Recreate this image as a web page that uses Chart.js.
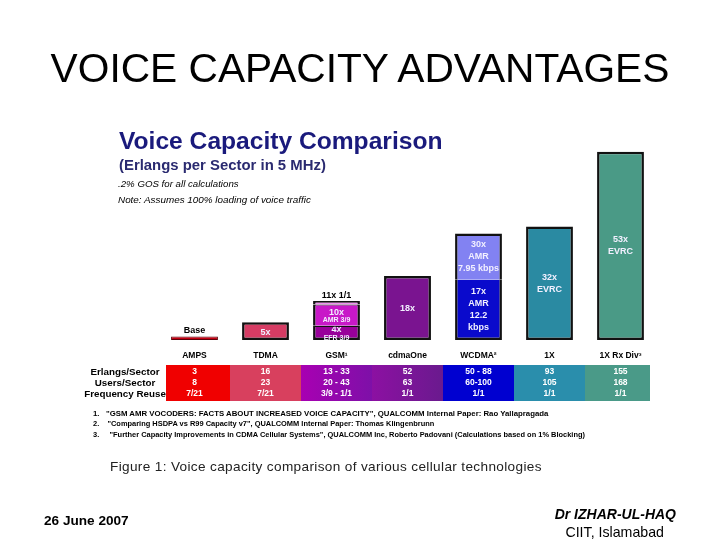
<!DOCTYPE html>
<html><head><meta charset="utf-8">
<script src="https://cdn.jsdelivr.net/npm/chart.js@4/dist/chart.umd.min.js"></script>
<style>
html,body{margin:0;padding:0;background:#fff;width:720px;height:540px;overflow:hidden;font-family:"Liberation Sans",Arial,sans-serif;}
#wrap{position:relative;width:720px;height:540px;}
canvas{position:absolute;left:0;top:0;}
.t{position:absolute;white-space:nowrap;}
</style></head><body>
<div id="wrap">
<canvas id="c" width="720" height="540"></canvas>
<div class="t" style="left:0;width:720px;text-align:center;top:45px;font-size:40.7px;line-height:46px;color:#000;">VOICE CAPACITY ADVANTAGES</div>
<div class="t" style="left:119px;top:127px;font-size:24.6px;line-height:28px;font-weight:bold;color:#1a1a7c;">Voice Capacity Comparison</div>
<div class="t" style="left:119px;top:156px;font-size:14.9px;line-height:18px;font-weight:bold;color:#2a2a70;">(Erlangs per Sector in 5 MHz)</div>
<div class="t" style="left:118px;top:178px;font-size:9.7px;line-height:12px;font-style:italic;color:#000;">.2% GOS for all calculations</div>
<div class="t" style="left:118px;top:194px;font-size:9.9px;line-height:12px;font-style:italic;color:#000;">Note: Assumes 100% loading of voice traffic</div>
<div class="t" style="left:93px;top:409px;font-size:7.8px;line-height:10px;font-weight:bold;color:#000;">1.&nbsp;&nbsp;&nbsp;"GSM AMR VOCODERS: FACTS ABOUT INCREASED VOICE CAPACITY", QUALCOMM Internal Paper: Rao Yallapragada</div>
<div class="t" style="left:93px;top:419px;font-size:7.45px;line-height:10px;font-weight:bold;color:#000;">2.&nbsp;&nbsp;&nbsp;&nbsp;"Comparing HSDPA vs R99 Capacity v7", QUALCOMM Internal Paper: Thomas Klingenbrunn</div>
<div class="t" style="left:93px;top:430px;font-size:7.45px;line-height:10px;font-weight:bold;color:#000;">3.&nbsp;&nbsp;&nbsp;&nbsp;&nbsp;"Further Capacity Improvements in CDMA Cellular Systems", QUALCOMM Inc, Roberto Padovani (Calculations based on 1% Blocking)</div>
<div class="t" style="left:110px;top:458px;font-size:13.6px;line-height:17px;color:#222;letter-spacing:0.35px;">Figure 1: Voice capacity comparison of various cellular technologies</div>
<div class="t" style="left:44px;top:513px;font-size:13.6px;line-height:16px;font-weight:bold;color:#000;">26 June 2007</div>
<div class="t" style="right:44px;top:506px;font-size:14px;line-height:16px;font-weight:bold;font-style:italic;color:#000;">Dr IZHAR-UL-HAQ</div>
<div class="t" style="right:56px;top:524px;font-size:14.2px;line-height:16px;color:#000;">CIIT, Islamabad</div>
</div>
<script>
const categories = ['AMPS', 'TDMA', 'GSM\u00B9', 'cdmaOne', 'WCDMA\u00B2', '1X', '1X Rx Div\u00B3'];
// capacity levels (multiples of AMPS) - lower tier, then upper tiers for stacked codecs
const lowerTier = [1, 5, 4, 18, 17, 32, 53];
const middleTier = [null, null, 10, null, 30, null, null];
const upperTier = [null, null, 11, null, null, null, null];
const lowerLabels = ['', '5x', '4x\nEFR 3/9', '18x', '17x\nAMR\n12.2\nkbps', '32x\nEVRC', '53x\nEVRC'];
const middleLabels = ['', '', '10x\nAMR 3/9', '', '30x\nAMR\n7.95 kbps', '', ''];
const aboveLabels = ['Base', '', '11x 1/1', '', '', '', ''];
const rowLabels = ['Erlangs/Sector', 'Users/Sector', 'Frequency Reuse'];
const erlangsPerSector = ['3', '16', '13 - 33', '52', '50 - 88', '93', '155'];
const usersPerSector = ['8', '23', '20 - 43', '63', '60-100', '105', '168'];
const frequencyReuse = ['7/21', '7/21', '3/9 - 1/1', '1/1', '1/1', '1/1', '1/1'];

// styles
const lowerColors = ['#c40012', '#d63c64', '#98009a', '#7a1490', '#0a0acc', '#2a8aa2', '#4a9a86'];
const middleColors = ['#000', '#000', '#c818c8', '#000', '#8282f2', '#000', '#000'];
const upperColors = ['#000', '#000', '#f090f0', '#000', '#000', '#000', '#000'];
const lowerBorderColors = ['#5a0008', '#111', '#111', '#111', '#111', '#111', '#111'];
const sideBorder = [1, 2.5, 2.5, 2.5, 2.5, 2.5, 2.5];
const lowerTopBorder = [1, 2.5, 1.2, 2.5, 0, 2.5, 2.5];
const middleTopBorder = [0, 0, 1, 0, 2.5, 0, 0];
const tableColors = ['#f00000', '#d8405e', ['#a800b2', '#7e10a8'], ['#8c10a2', '#6a1a8e'], '#0000d0', '#2a8eac', '#4a9a88'];
const FONT = '"Liberation Sans", Arial, sans-serif';

const lowerData = lowerTier.map(v => [0, v]);
const middleData = middleTier.map((v, i) => v == null ? null : [lowerTier[i], v]);
const upperData = upperTier.map((v, i) => v == null ? null : [middleTier[i], v]);

const labelPlugin = {
  id: 'barLabels',
  afterDatasetsDraw(chart) {
    const ctx = chart.ctx;
    const sets = [lowerLabels, middleLabels];
    ctx.save();
    ctx.textAlign = 'center';
    ctx.textBaseline = 'middle';
    sets.forEach((labels, di) => {
      const meta = chart.getDatasetMeta(di);
      meta.data.forEach((bar, i) => {
        const txt = labels[i];
        if (!txt) return;
        const lines = txt.split('\n');
        const top = Math.min(bar.y, bar.base), bot = Math.max(bar.y, bar.base);
        const h = bot - top;
        const small = h < 25;
        const lh = small ? 8 : 12;
        const total = lh * lines.length;
        let cy = (top + bot) / 2 - total / 2 + lh / 2;
        if (small) cy += 1;
        ctx.save();
        ctx.beginPath();
        ctx.rect(bar.x - bar.width / 2, top + 1, bar.width, h - 1);
        ctx.clip();
        ctx.fillStyle = '#f2f0ff';
        lines.forEach((ln, k) => {
          const fs = (small && k > 0) ? 7 : 9;
          ctx.font = 'bold ' + fs + 'px ' + FONT;
          ctx.fillText(ln, bar.x, cy + k * lh);
        });
        ctx.restore();
      });
    });
    ctx.fillStyle = '#000';
    ctx.font = 'bold 9px ' + FONT;
    ctx.textBaseline = 'bottom';
    aboveLabels.forEach((txt, i) => {
      if (!txt) return;
      let topY = Infinity, x = 0;
      [0, 1, 2].forEach(di => {
        if (chart.data.datasets[di].data[i] == null) return;
        const b = chart.getDatasetMeta(di).data[i];
        const t = Math.min(b.y, b.base);
        if (t < topY) { topY = t; x = b.x; }
      });
      ctx.fillText(txt, x, topY - 1);
    });
    ctx.restore();
  },
  afterDraw(chart) {
    const ctx = chart.ctx;
    const xs = chart.scales.x;
    const n = categories.length;
    const centers = categories.map((c, i) => xs.getPixelForValue(i));
    const step = centers[1] - centers[0];
    const top = 365, bottom = 401;
    const rows = [erlangsPerSector, usersPerSector, frequencyReuse];
    const rowY = [372, 383, 394];
    ctx.save();
    for (let i = 0; i < n; i++) {
      const l = i === 0 ? centers[i] - 28 : centers[i] - step / 2;
      const r = i === n - 1 ? centers[i] + 28.5 : centers[i] + step / 2;
      const col = tableColors[i];
      if (Array.isArray(col)) {
        const g = ctx.createLinearGradient(l, 0, r, 0);
        g.addColorStop(0, col[0]);
        g.addColorStop(1, col[1]);
        ctx.fillStyle = g;
      } else ctx.fillStyle = col;
      ctx.fillRect(Math.floor(l), top, Math.ceil(r - l) + 1, bottom - top);
    }
    ctx.textAlign = 'center';
    ctx.textBaseline = 'middle';
    ctx.fillStyle = '#fff';
    ctx.font = 'bold 8.5px ' + FONT;
    rows.forEach((row, ri) => {
      row.forEach((v, i) => ctx.fillText(v, centers[i], rowY[ri]));
    });
    ctx.fillStyle = '#000';
    ctx.font = 'bold 9.8px ' + FONT;
    rowLabels.forEach((t, ri) => ctx.fillText(t, 125, rowY[ri]));
    ctx.restore();
  }
};

new Chart(document.getElementById('c'), {
  type: 'bar',
  data: {
    labels: categories,
    datasets: [
      { data: lowerData, backgroundColor: lowerColors, borderColor: lowerBorderColors, borderSkipped: false,
        borderWidth: c => ({ top: lowerTopBorder[c.dataIndex], bottom: sideBorder[c.dataIndex], left: sideBorder[c.dataIndex], right: sideBorder[c.dataIndex] }) },
      { data: middleData, backgroundColor: middleColors, borderColor: '#111', borderSkipped: false,
        borderWidth: c => ({ top: middleTopBorder[c.dataIndex], bottom: 0, left: 2.5, right: 2.5 }) },
      { data: upperData, backgroundColor: upperColors, borderColor: '#111', borderSkipped: false,
        borderWidth: { top: 1.8, bottom: 0, left: 2.5, right: 2.5 } }
    ]
  },
  options: {
    responsive: false,
    animation: false,
    devicePixelRatio: 1,
    layout: { padding: { left: 159, right: 64, top: 127, bottom: 175 } },
    plugins: { legend: { display: false }, tooltip: { enabled: false }, title: { display: false } },
    datasets: { bar: { categoryPercentage: 1, barPercentage: 0.66, grouped: false } },
    scales: {
      x: {
        grid: { display: false },
        border: { display: false },
        ticks: { color: '#000', font: { family: FONT, size: 8.5, weight: 'bold' }, padding: 3, maxRotation: 0, autoSkip: false },
        afterFit(axis) { axis.height = 25; }
      },
      y: { display: false, min: 0, max: 60 }
    }
  },
  plugins: [labelPlugin]
});
</script>
</body></html>
